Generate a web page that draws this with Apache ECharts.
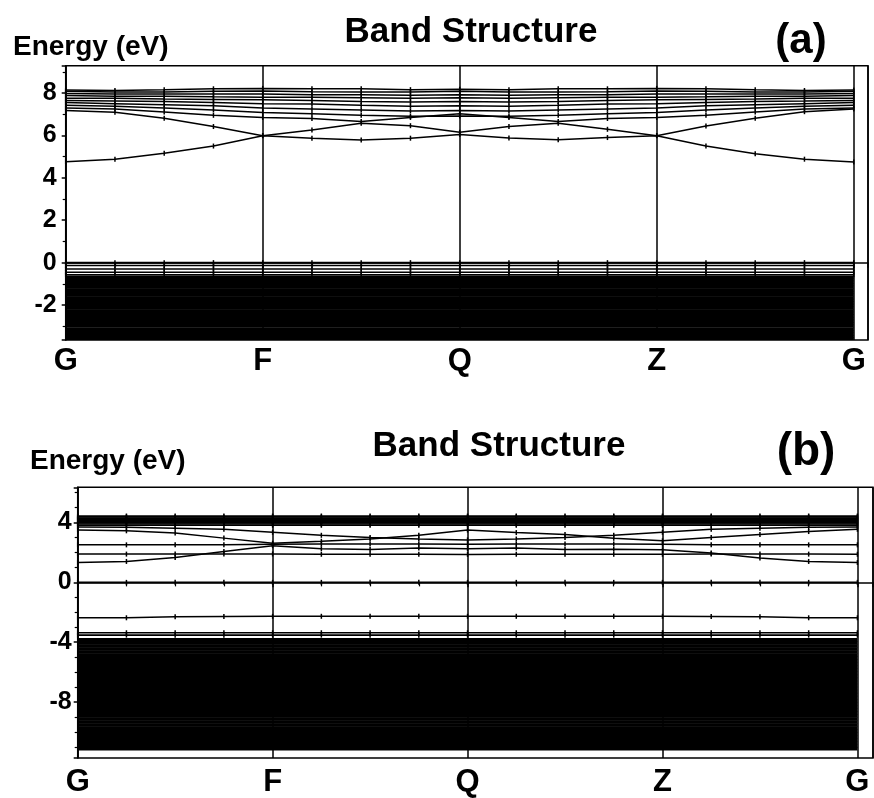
<!DOCTYPE html>
<html><head><meta charset="utf-8">
<script src="https://cdn.jsdelivr.net/npm/echarts@6/dist/echarts.min.js"></script>
<style>html,body{margin:0;padding:0;background:#fff}#c{width:874px;height:798px}</style>
</head><body><div id="c"></div>
<script>
// ---------- data ----------
const kPoints = [0,1,2,3,4,5,6,7,8,9,10,11,12,13,14,15,16];
const kTickPos = [0,4,8,12,16];
const kTickLabels = ['G','F','Q','Z','G'];

// panel (a) conduction bands (eV) at each k-point
const cA1 = [4.76,4.88,5.16,5.50,5.99,5.87,5.79,5.87,6.05,5.88,5.80,5.90,5.99,5.50,5.14,4.88,4.75];
const cA2 = [7.18,7.09,6.81,6.42,5.99,6.26,6.57,6.46,6.15,6.42,6.57,6.29,5.99,6.45,6.81,7.12,7.25];
const cA3 = [7.30,7.25,7.10,6.95,6.85,6.80,6.66,6.85,7.02,6.85,6.66,6.80,6.85,6.95,7.10,7.25,7.30];
const cA4 = [7.42,7.38,7.30,7.20,7.08,7.02,6.95,6.90,6.92,6.90,6.95,7.02,7.08,7.20,7.30,7.38,7.42];
const cA5 = [7.55,7.50,7.45,7.40,7.30,7.25,7.20,7.15,7.18,7.15,7.20,7.25,7.30,7.40,7.45,7.50,7.55];
const cA6 = [7.65,7.62,7.60,7.55,7.50,7.48,7.42,7.38,7.40,7.38,7.42,7.48,7.50,7.55,7.60,7.62,7.65];
const cA7 = [7.75,7.75,7.72,7.70,7.68,7.65,7.60,7.58,7.60,7.58,7.60,7.65,7.68,7.70,7.72,7.75,7.75];
const cA8 = [7.88,7.85,7.85,7.82,7.80,7.80,7.78,7.75,7.78,7.75,7.78,7.80,7.80,7.82,7.85,7.85,7.88];
const cA9 = [7.98,7.96,7.95,7.95,7.95,7.92,7.92,7.90,7.92,7.90,7.92,7.92,7.95,7.95,7.95,7.96,7.98];
const cA10 = [8.08,8.05,8.05,8.08,8.10,8.06,8.05,8.05,8.08,8.05,8.05,8.06,8.10,8.08,8.05,8.05,8.08];
const cA11 = [8.14,8.12,8.15,8.20,8.22,8.20,8.20,8.16,8.18,8.16,8.20,8.20,8.22,8.20,8.15,8.12,8.14];
// panel (a) separate valence bands near the top (flat energies)
const vTopA = [0.0,-0.14,-0.30,-0.45,-0.57];
// panel (a) densely packed valence bands (flat energies)
const denseA = [-0.68,-0.80,-0.92,-1.04,-1.16,-1.29,-1.41,-1.53,-1.66,-1.78,-1.90,-2.02,-2.15,-2.27,-2.39,-2.51,-2.64,-2.76,-2.88,-3.00,-3.13,-3.25,-3.37,-3.49,-3.58];

// panel (b) conduction bands
const cB1 = [1.33,1.40,1.67,2.07,2.45,2.25,2.20,2.30,2.25,2.30,2.20,2.22,2.18,1.96,1.63,1.40,1.33];
const cB2 = [1.89,1.89,1.90,1.90,1.90,1.88,1.88,1.88,1.87,1.88,1.88,1.88,1.88,1.90,1.90,1.89,1.88];
const cB3 = [2.51,2.51,2.52,2.52,2.55,2.57,2.57,2.57,2.55,2.57,2.57,2.57,2.55,2.52,2.52,2.51,2.51];
const cB4 = [3.51,3.45,3.30,2.96,2.62,2.75,2.90,3.15,3.50,3.33,3.20,2.95,2.78,3.00,3.20,3.40,3.55];
const cB5 = [3.70,3.68,3.62,3.55,3.35,3.15,3.00,2.90,2.84,2.90,3.00,3.15,3.35,3.55,3.62,3.68,3.70];
const bundleB = [3.82,3.90,3.98,4.06,4.14,4.22,4.30,4.38,4.44];
// panel (b) valence
const vB0 = [0.0];
const vB1 = [-2.37,-2.37,-2.30,-2.28,-2.27,-2.27,-2.27,-2.27,-2.27,-2.27,-2.27,-2.27,-2.27,-2.28,-2.30,-2.37,-2.37];
const vTopB = [-3.37,-3.53];
const denseB = [-3.85,-4.05,-4.26,-4.46,-4.66,-4.87,-5.07,-5.27,-5.48,-5.68,-5.88,-6.09,-6.29,-6.49,-6.70,-6.90,-7.10,-7.31,-7.51,-7.71,-7.92,-8.12,-8.32,-8.53,-8.73,-8.93,-9.14,-9.34,-9.54,-9.75,-9.95,-10.15,-10.36,-10.56,-10.76,-10.97,-11.12];

// ---------- chart ----------
const FONT = '"Liberation Sans", Arial, Helvetica, sans-serif';
const chart = echarts.init(document.getElementById('c'), null, {renderer:'canvas'});

function band(vals, g, lw, sym) {
  return {
    type:'line', xAxisIndex:g, yAxisIndex:g, silent:true, animation:false,
    data: vals.map((v,i)=>[kPoints[i], v]),
    symbol: sym ? 'rect' : 'none', symbolSize:[1.5,5], showAllSymbol:true,
    itemStyle:{color:'#000'}, lineStyle:{color:'#000', width:lw}, z:3
  };
}
function flat(E, g, lw, sym) {
  return band(kPoints.map(()=>E), g, lw, sym);
}

const series = [];
[cA1,cA2,cA3,cA4,cA5,cA6,cA7,cA8,cA9,cA10,cA11].forEach(b=>series.push(band(b,0,1.5,true)));
vTopA.forEach((e,i)=>series.push(flat(e,0,i===0?2:1.5,true)));
denseA.forEach(e=>series.push(flat(e,0,3.2,false)));
[cB1,cB2,cB3,cB4,cB5].forEach(b=>series.push(band(b,1,1.5,true)));
bundleB.forEach(e=>series.push(flat(e,1,1.6,true)));
vB0.forEach(e=>series.push(flat(e,1,1.6,true)));
series.push(band(vB1,1,1.6,true));
vTopB.forEach(e=>series.push(flat(e,1,1.6,true)));
denseB.forEach(e=>series.push(flat(e,1,3.6,false)));

function xAx(g, max, margin) {
  return {
    type:'value', gridIndex:g, min:0, max:max, minInterval:4, maxInterval:4,
    axisLine:{show:true, lineStyle:{color:'#000', width:1.5}},
    axisTick:{show:true, length:5, inside:false, lineStyle:{color:'#000', width:1.5}},
    minorTick:{show:true, splitNumber:4, length:4, lineStyle:{color:'#000', width:1.2}},
    splitLine:{show:true, lineStyle:{color:'#000', width:1.5}},
    axisLabel:{show:true, margin:margin, showMaxLabel:false, color:'#000',
      fontFamily:FONT, fontWeight:'bold', fontSize:31,
      formatter:(v)=>{const i=kTickPos.indexOf(Math.round(v*1000)/1000); return i>=0?kTickLabels[i]:'';}}
  };
}
function yAx(g, min, max, step, margin) {
  return {
    type:'value', gridIndex:g, min:min, max:max, minInterval:step, maxInterval:step,
    axisLine:{show:true, lineStyle:{color:'#000', width:1.5}},
    axisTick:{show:true, length:4, lineStyle:{color:'#000', width:1.5}},
    minorTick:{show:true, splitNumber:step, length:3, lineStyle:{color:'#000', width:1.2}},
    splitLine:{show:false},
    axisLabel:{show:true, margin:margin, showMinLabel:false, showMaxLabel:false, color:'#000',
      fontFamily:FONT, fontWeight:'bold', fontSize:25}
  };
}

const txt = (text, x, y, size, align) => ({
  type:'text', x:x, y:y, silent:true,
  style:{text:text, fill:'#000', font:'bold '+size+'px '+FONT, textAlign:align||'left', textVerticalAlign:'middle'}
});

chart.setOption({
  animation:false,
  backgroundColor:'#fff',
  grid:[
    {left:65.7, top:65.7, right:6, bottom:458, show:true, borderColor:'#000', borderWidth:1.5, backgroundColor:'transparent'},
    {left:77.7, top:487.3, right:1, bottom:39, show:true, borderColor:'#000', borderWidth:1.5, backgroundColor:'transparent'}
  ],
  xAxis:[ xAx(0, 16.29, 6), xAx(1, 16.32, 9) ],
  yAxis:[ yAx(0, -3.65, 9.29, 2, 9), yAx(1, -11.75, 6.36, 4, 6) ],
  series: series,
  graphic:[
    txt('Energy (eV)', 13, 47, 28),
    txt('Band Structure', 471, 32, 35, 'center'),
    txt('(a)', 801, 41, 42, 'center'),
    txt('Energy (eV)', 30, 461, 28),
    txt('Band Structure', 499, 446, 35, 'center'),
    txt('(b)', 806, 452, 46, 'center')
  ]
});
</script>
</body></html>
